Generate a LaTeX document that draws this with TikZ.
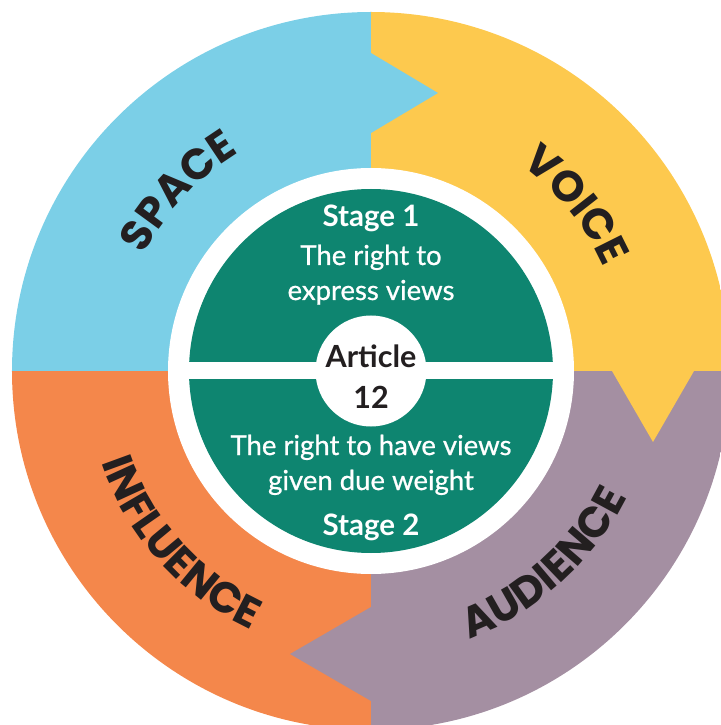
\documentclass[tikz,border=0pt]{standalone}
\usepackage{fontspec}
\setmainfont{Lato}
\newfontfamily\medfont{Lato}[FakeBold=0.8]
\newfontfamily\labelfont{Poppins}
\usetikzlibrary{decorations.text}
\definecolor{cblue}{RGB}{123,207,231}
\definecolor{cyellow}{RGB}{253,201,78}
\definecolor{corange}{RGB}{244,135,75}
\definecolor{cpurple}{RGB}{164,143,162}
\definecolor{cgreen}{RGB}{14,133,112}
\definecolor{ctext}{RGB}{35,31,32}
\tikzset{
  inner/.style={text=white, font=\medfont\fontsize{27.5}{27.5}\selectfont, anchor=base, inner sep=0pt},
  innerbold/.style={inner, font=\bfseries\fontsize{29.5}{29.5}\selectfont},
  centretext/.style={text=ctext, font=\bfseries\fontsize{30.5}{30.5}\selectfont, anchor=base, inner sep=0pt},
  ringlabel/.style={decorate, decoration={text along path, text align=center,
      text={|\labelfont\bfseries\fontsize{43}{43}\selectfont\color{ctext}|#1}}}
}
\begin{document}
\begin{tikzpicture}[x=1pt,y=1pt]
\useasboundingbox (-371,-354) rectangle (349,371);
\begin{scope}
  \clip (0,0) circle (359);
  \fill[cblue] (0,0) rectangle (-400,400);
  \fill[cyellow] (0,0) rectangle (400,400);
  \fill[corange] (0,0) rectangle (-400,-400);
  \fill[cpurple] (0,0) rectangle (400,-400);
  \fill[cblue] (0,318) -- (67,278) -- (0,238) -- cycle;
  \fill[cyellow] (241,0) -- (282,-71) -- (323,0) -- cycle;
  \fill[cpurple] (0,-236) -- (-81,-283) -- (0,-330) -- cycle;
\end{scope}
\fill[white] (0,0) circle (203);
\fill[cgreen] (0,0) circle (182);
\fill[white] (-190,-8.5) rectangle (190,8.5);
\fill[white] (0,0) circle (55.5);
% ring labels
\path[ringlabel=SPACE] (172:255) arc[start angle=172, end angle=102, radius=255];
\path[ringlabel=VOICE] (80:255) arc[start angle=80, end angle=-2, radius=255];
\path[ringlabel=INFLUENCE] (180:285) arc[start angle=180, end angle=264, radius=285];
\path[ringlabel=AUDIENCE] (270:285) arc[start angle=270, end angle=354, radius=285];
% inner texts
\node[innerbold] (s1) at (0,144) {Stage 1};
\node[inner] (r1) at (0,106) {The right to};
\node[inner] (r2) at (0,71) {express views};
\node[centretext] (a1) at (0,3) {Article};
\node[centretext] (a2) at (0,-37) {12};
\node[inner] (w1) at (0,-84) {The right to have views};
\node[inner] (w2) at (0,-119) {given due weight};
\node[innerbold] (s2) at (0,-164) {Stage 2};
\end{tikzpicture}
\end{document}
